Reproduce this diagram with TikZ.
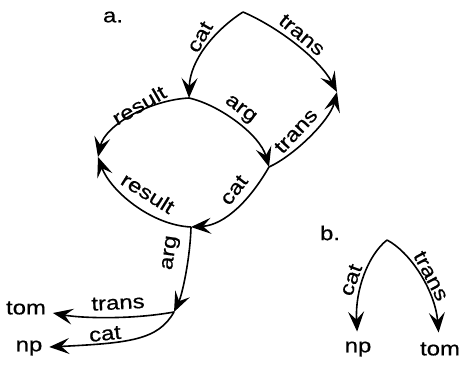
\documentclass[tikz,border=0pt]{standalone}
\usepackage{fontspec}
\setmainfont{Liberation Sans}[FakeStretch=1.2, FakeBold=0.6]
\usepackage{tikz}
\usetikzlibrary{arrows.meta}
\tikzset{
    arr/.style={-{Stealth[length=20bp, width=16bp, inset=8bp]}, line width=1.6bp, black},
    lab/.style={font=\fontsize{20}{23}\selectfont, inner sep=0pt},
    leaf/.style={font=\fontsize{20}{23}\selectfont, inner sep=4bp, outer sep=3bp},
    tag/.style={font=\fontsize{20}{23}\selectfont, inner sep=0pt},
}

\begin{document}
\begin{tikzpicture}[x=1bp, y=-1bp]
    \useasboundingbox (0,0) rectangle (462,365);
    % a.
    \node[tag] (taga) at (113,17) {a.};
    \coordinate (top) at (243,12);
    \coordinate (catb) at (189,98);
    \coordinate (transc) at (337,92);
    \coordinate (resd) at (98,157);
    \coordinate (arge) at (269,167);
    \coordinate (catf) at (191,227);
    \coordinate (argg) at (174,312);
    \node[leaf] (toma) at (26,308) {tom};
    \node[leaf] (npa) at (29,348) {np};
    \draw[arr] (top) .. controls (215,30) and (190,60) .. (catb) node[lab, rotate=60] (l1) at (200,37) {cat};
    \draw[arr] (top) .. controls (280,28) and (320,60) .. (transc) node[lab, rotate=-40] (l2) at (302,35) {trans};
    \draw[arr] (catb) .. controls (150,100) and (105,125) .. (resd) node[lab, rotate=30] (l3) at (139,105) {result};
    \draw[arr] (catb) .. controls (220,105) and (260,135) .. (arge) node[lab, rotate=-37] (l4) at (240,110) {arg};
    \draw[arr] (arge) .. controls (295,155) and (330,120) .. (transc) node[lab, rotate=47] (l5) at (296,131) {trans};
    \draw[arr] (arge) .. controls (250,200) and (225,225) .. (catf) node[lab, rotate=52] (l6) at (234,190) {cat};
    \draw[arr] (catf) .. controls (150,225) and (110,190) .. (resd) node[lab, rotate=-32] (l7) at (148,193) {result};
    \draw[arr] (catf) .. controls (190,260) and (182,295) .. (argg) node[lab, rotate=82] (l8) at (171,253) {arg};
    \draw[arr] (argg) .. controls (130,320) and (80,318) .. (toma) node[lab, rotate=3] (l9) at (118,303) {trans};
    \draw[arr] (argg) .. controls (158,340) and (130,343) .. (npa) node[lab, rotate=6] (l10) at (105,334) {cat};
    % b.
    \node[tag] (tagb) at (330,233) {b.};
    \coordinate (btop) at (387,240);
    \node[leaf] (npb) at (358,349) {np};
    \node[leaf] (tomb) at (440,349) {tom};
    \draw[arr, shorten >=3bp] (btop) .. controls (368,255) and (355,290) .. (npb) node[lab, rotate=70] (l11) at (351,280) {cat};
    \draw[arr, shorten >=3bp] (btop) .. controls (410,252) and (435,290) .. (tomb) node[lab, rotate=-62] (l12) at (431,276) {trans};
\end{tikzpicture}
\end{document}
